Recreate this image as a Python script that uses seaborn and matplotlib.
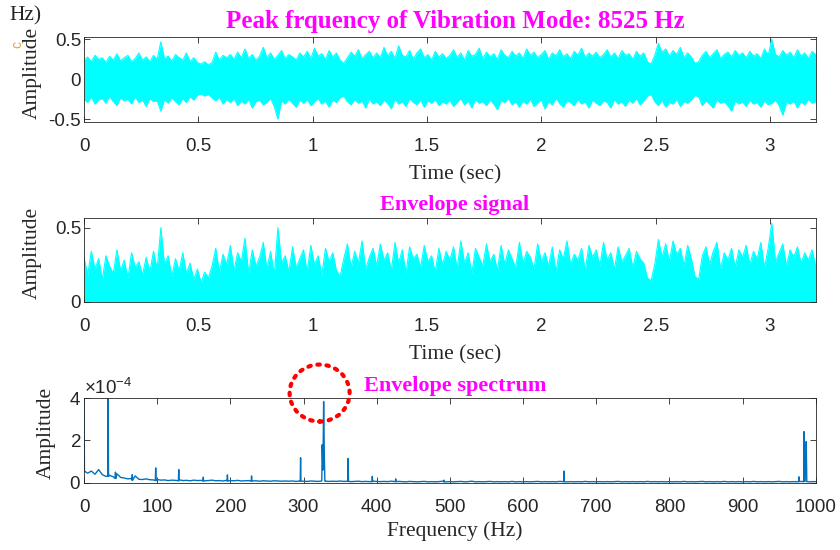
import numpy as np
import matplotlib
matplotlib.use("Agg")
import matplotlib.pyplot as plt
import seaborn as sns
from matplotlib.patches import Ellipse
from matplotlib.ticker import ScalarFormatter

# ---------------- data ----------------
# raw vibration signal: upper / lower envelope of the dense trace, 0 .. 3.2 s
top_upper = [
    0.24, 0.28, 0.22, 0.30, 0.25, 0.27, 0.21, 0.29, 0.24, 0.32, 0.23, 0.27, 0.30, 0.22, 0.26, 0.33, 0.24, 0.28, 0.22, 0.30,
    0.25, 0.47, 0.26, 0.29, 0.23, 0.31, 0.27, 0.24, 0.33, 0.22, 0.27, 0.21, 0.19, 0.22, 0.18, 0.21, 0.34, 0.24, 0.30, 0.27,
    0.31, 0.25, 0.34, 0.27, 0.38, 0.26, 0.31, 0.24, 0.29, 0.40, 0.27, 0.33, 0.25, 0.30, 0.36, 0.26, 0.31, 0.28, 0.24, 0.33,
    0.28, 0.35, 0.26, 0.39, 0.29, 0.32, 0.25, 0.36, 0.28, 0.33, 0.24, 0.20, 0.27, 0.34, 0.29, 0.37, 0.26, 0.31, 0.35, 0.27,
    0.33, 0.27, 0.40, 0.29, 0.35, 0.26, 0.42, 0.30, 0.28, 0.36, 0.25, 0.33, 0.38, 0.27, 0.31, 0.24, 0.35, 0.28, 0.32, 0.26,
    0.30, 0.37, 0.27, 0.33, 0.24, 0.36, 0.29, 0.31, 0.39, 0.26, 0.34, 0.28, 0.32, 0.25, 0.37, 0.30, 0.27, 0.35, 0.29, 0.33,
    0.26, 0.38, 0.30, 0.34, 0.27, 0.31, 0.36, 0.25, 0.33, 0.29, 0.37, 0.28, 0.32, 0.26, 0.35, 0.30, 0.39, 0.27, 0.33, 0.29,
    0.34, 0.27, 0.31, 0.37, 0.28, 0.33, 0.26, 0.36, 0.30, 0.32, 0.25, 0.35, 0.29, 0.33, 0.22, 0.19, 0.30, 0.45, 0.34, 0.38,
    0.29, 0.36, 0.31, 0.40, 0.27, 0.33, 0.28, 0.20, 0.22, 0.30, 0.35, 0.27, 0.32, 0.37, 0.26, 0.31, 0.34, 0.28, 0.36, 0.30,
    0.33, 0.27, 0.35, 0.29, 0.32, 0.26, 0.38, 0.30, 0.50, 0.31, 0.28, 0.36, 0.30, 0.34, 0.27, 0.37, 0.29, 0.33, 0.26, 0.35,
    0.31,
]
top_lower = [
    -0.25, -0.29, -0.22, -0.31, -0.26, -0.24, -0.30, -0.21, -0.28, -0.33, -0.23, -0.27, -0.25, -0.31, -0.22, -0.29, -0.26, -0.34, -0.24, -0.28,
    -0.27, -0.40, -0.25, -0.30, -0.23, -0.28, -0.32, -0.24, -0.29, -0.22, -0.26, -0.20, -0.18, -0.21, -0.19, -0.23, -0.27, -0.22, -0.31, -0.25,
    -0.29, -0.24, -0.33, -0.27, -0.31, -0.25, -0.36, -0.28, -0.26, -0.32, -0.29, -0.24, -0.34, -0.50, -0.27, -0.31, -0.25, -0.30, -0.35, -0.26,
    -0.30, -0.25, -0.33, -0.28, -0.24, -0.31, -0.27, -0.35, -0.26, -0.29, -0.23, -0.21, -0.28, -0.32, -0.25, -0.30, -0.27, -0.36, -0.24, -0.31,
    -0.28, -0.33, -0.26, -0.30, -0.37, -0.25, -0.31, -0.28, -0.34, -0.24, -0.29, -0.32, -0.26, -0.35, -0.27, -0.30, -0.25, -0.33, -0.28, -0.31,
    -0.26, -0.34, -0.29, -0.24, -0.32, -0.27, -0.36, -0.25, -0.30, -0.28, -0.33, -0.26, -0.31, -0.38, -0.27, -0.29, -0.24, -0.32, -0.28, -0.35,
    -0.27, -0.31, -0.25, -0.34, -0.29, -0.26, -0.37, -0.28, -0.32, -0.24, -0.30, -0.35, -0.27, -0.29, -0.33, -0.25, -0.31, -0.28, -0.36, -0.26,
    -0.30, -0.33, -0.27, -0.29, -0.36, -0.25, -0.31, -0.28, -0.34, -0.26, -0.30, -0.24, -0.32, -0.27, -0.21, -0.19, -0.28, -0.33, -0.26, -0.35,
    -0.29, -0.31, -0.25, -0.34, -0.28, -0.30, -0.26, -0.20, -0.22, -0.33, -0.27, -0.31, -0.36, -0.26, -0.30, -0.28, -0.33, -0.40, -0.27, -0.31,
    -0.28, -0.34, -0.26, -0.31, -0.29, -0.35, -0.27, -0.32, -0.30, -0.26, -0.33, -0.45, -0.29, -0.31, -0.27, -0.36, -0.28, -0.32, -0.25, -0.30,
    -0.28,
]
# envelope signal: upper edge of the dense trace, 0 .. 3.2 s
env_upper = [
    0.30, 0.18, 0.34, 0.22, 0.29, 0.15, 0.31, 0.24, 0.19, 0.35, 0.21, 0.28, 0.16, 0.33, 0.23, 0.27, 0.18, 0.30, 0.20, 0.34,
    0.22, 0.50, 0.25, 0.31, 0.17, 0.29, 0.21, 0.33, 0.19, 0.26, 0.15, 0.22, 0.13, 0.20, 0.16, 0.24, 0.36, 0.20, 0.32, 0.25,
    0.38, 0.21, 0.33, 0.27, 0.43, 0.19, 0.35, 0.24, 0.30, 0.40, 0.22, 0.34, 0.18, 0.50, 0.26, 0.31, 0.20, 0.37, 0.23, 0.29,
    0.35, 0.20, 0.38, 0.25, 0.31, 0.18, 0.36, 0.27, 0.33, 0.21, 0.17, 0.29, 0.39, 0.23, 0.34, 0.26, 0.41, 0.22, 0.30, 0.36,
    0.24, 0.39, 0.28, 0.33, 0.21, 0.40, 0.26, 0.35, 0.19, 0.37, 0.29, 0.32, 0.23, 0.38, 0.27, 0.31, 0.20, 0.36, 0.25, 0.34,
    0.28, 0.37, 0.22, 0.41, 0.26, 0.33, 0.19, 0.36, 0.30, 0.24, 0.39, 0.27, 0.32, 0.21, 0.38, 0.25, 0.35, 0.29, 0.23, 0.40,
    0.26, 0.34, 0.30, 0.22, 0.39, 0.27, 0.33, 0.24, 0.37, 0.20, 0.35, 0.29, 0.41, 0.25, 0.32, 0.28, 0.36, 0.21, 0.38, 0.30,
    0.35, 0.24, 0.40, 0.28, 0.33, 0.22, 0.37, 0.27, 0.31, 0.36, 0.23, 0.34, 0.29, 0.26, 0.16, 0.14, 0.25, 0.42, 0.30, 0.39,
    0.27, 0.41, 0.32, 0.36, 0.24, 0.38, 0.29, 0.17, 0.15, 0.31, 0.37, 0.25, 0.34, 0.40, 0.22, 0.33, 0.28, 0.36, 0.23, 0.35,
    0.30, 0.38, 0.25, 0.34, 0.29, 0.40, 0.23, 0.36, 0.53, 0.27, 0.33, 0.39, 0.24, 0.35, 0.30, 0.37, 0.26, 0.33, 0.28, 0.35,
    0.24,
]
duration = 3.2  # seconds

# envelope spectrum (amplitude in units of 1e-4): noise floor every 5 Hz
floor_freq = list(range(0, 1001, 5))
floor_amp = [
    4.5, 0.45, 0.55, 0.40, 0.62, 0.38, 0.30, 0.35, 0.28, 0.42, 0.25, 0.22, 0.18, 0.20, 0.32, 0.16, 0.15, 0.18, 0.14, 0.13,
    0.15, 0.12, 0.13, 0.10, 0.12, 0.11, 0.14, 0.10, 0.11, 0.09, 0.12, 0.10, 0.11, 0.09, 0.10, 0.12, 0.09, 0.10, 0.08, 0.11,
    0.10, 0.09, 0.11, 0.08, 0.09, 0.10, 0.08, 0.09, 0.07, 0.09, 0.08, 0.07, 0.09, 0.08, 0.07, 0.08, 0.07, 0.08, 0.06, 0.08,
    0.07, 0.06, 0.08, 0.07, 0.06, 0.09, 0.07, 0.06, 0.07, 0.06, 0.08, 0.06, 0.07, 0.05, 0.06, 0.07, 0.05, 0.06, 0.05, 0.07,
    0.06, 0.05, 0.06, 0.05, 0.07, 0.05, 0.06, 0.05, 0.04, 0.06, 0.05, 0.04, 0.05, 0.06, 0.04, 0.05, 0.04, 0.05, 0.07, 0.04,
    0.05, 0.04, 0.05, 0.06, 0.04, 0.05, 0.07, 0.04, 0.05, 0.04, 0.05, 0.06, 0.04, 0.05, 0.04, 0.05, 0.04, 0.06, 0.04, 0.05,
    0.04, 0.05, 0.04, 0.05, 0.06, 0.04, 0.05, 0.04, 0.05, 0.04, 0.06, 0.05, 0.04, 0.05, 0.04, 0.05, 0.04, 0.06, 0.04, 0.05,
    0.04, 0.05, 0.04, 0.05, 0.04, 0.05, 0.06, 0.04, 0.05, 0.04, 0.05, 0.04, 0.05, 0.04, 0.06, 0.04, 0.05, 0.04, 0.05, 0.04,
    0.05, 0.04, 0.05, 0.04, 0.06, 0.04, 0.05, 0.04, 0.05, 0.06, 0.04, 0.05, 0.04, 0.05, 0.04, 0.06, 0.04, 0.05, 0.04, 0.05,
    0.04, 0.05, 0.04, 0.06, 0.04, 0.05, 0.04, 0.05, 0.04, 0.05, 0.06, 0.04, 0.05, 0.04, 0.05, 0.04, 0.06, 0.05, 0.04, 0.05,
    0.05,
]
# spectral lines (frequency in Hz, amplitude in units of 1e-4), with their narrow bases
peak_freq = [0.6,
             32.5, 33.0, 33.5, 42.5, 43.0, 43.5, 65.5, 66.0, 66.5, 97.5, 98.0, 98.5,
             129.0, 129.5, 129.9, 162.5, 163.0, 163.5, 195.5, 196.0, 196.5, 228.5, 229.0, 229.5,
             295.5, 296.0, 296.5, 324.8, 325.5, 326.5, 327.5, 328.5, 329.2,
             360.5, 361.0, 361.5, 393.5, 394.0, 394.5, 425.5, 426.0, 426.5,
             491.5, 492.0, 492.5, 655.5, 656.0, 656.5, 976.5, 977.0, 977.5,
             983.5, 984.0, 985.3, 986.5, 987.0, 987.8]
peak_amp = [0.55,
            0.30, 4.60, 0.30, 0.20, 0.50, 0.20, 0.12, 0.38, 0.12, 0.10, 0.70, 0.10,
            0.09, 0.62, 0.09, 0.08, 0.26, 0.08, 0.08, 0.37, 0.08, 0.07, 0.32, 0.07,
            0.07, 1.18, 0.07, 0.08, 1.80, 0.60, 3.84, 1.20, 0.07,
            0.06, 1.15, 0.06, 0.05, 0.30, 0.05, 0.05, 0.18, 0.05,
            0.04, 0.12, 0.04, 0.04, 0.55, 0.04, 0.05, 0.28, 0.05,
            0.05, 2.42, 0.40, 0.60, 1.95, 0.05]
amp_unit = 1e-4

# highlighted spectral line (red dotted circle)
highlight_freq = 322
highlight_amp = 4.25e-4

time_ticks = [0, 0.5, 1, 1.5, 2, 2.5, 3]
time_tick_labels = ["0", "0.5", "1", "1.5", "2", "2.5", "3"]
sig_yticks = [-0.5, 0, 0.5]
sig_ytick_labels = ["-0.5", "0", "0.5"]
env_yticks = [0, 0.5]
env_ytick_labels = ["0", "0.5"]
freq_ticks = [0, 100, 200, 300, 400, 500, 600, 700, 800, 900, 1000]
spec_yticks = [0, 2e-4, 4e-4]

title_top = "Peak frquency of Vibration Mode: 8525 Hz"
title_mid = "Envelope signal"
title_bot = "Envelope spectrum"
xlabel_time = "Time (sec)"
xlabel_freq = "Frequency (Hz)"
ylabel = "Amplitude"

# ---------------- style ----------------
sns.set_style("ticks")
DARK = "#262626"
CYAN = "#00FFFF"
BLUE = "#0072BD"
MAGENTA = "#FF00FF"
plt.rcParams.update({
    "font.family": ["Liberation Sans", "DejaVu Sans"],
    "axes.unicode_minus": False,
    "mathtext.fontset": "custom",
    "mathtext.rm": "Liberation Sans",
    "mathtext.it": "Liberation Sans:italic",
    "mathtext.bf": "Liberation Sans:bold",
    "axes.edgecolor": DARK,
    "axes.linewidth": 0.6,
})
SERIF = ["Liberation Serif", "DejaVu Serif"]
TICK_SIZE = 13.5

fig = plt.figure(figsize=(8.4, 5.5), dpi=100)
W = 0.8711
ax1 = fig.add_axes([0.1, 0.7790, W, 0.1537])
ax2 = fig.add_axes([0.1, 0.4515, W, 0.1527])
ax3 = fig.add_axes([0.1, 0.1224, W, 0.1534])


def style_axes(ax, xpad=12):
    for s in ax.spines.values():
        s.set_visible(True)
        s.set_color(DARK)
        s.set_linewidth(0.6)
    ax.tick_params(axis="both", direction="in", top=True, right=True, length=4,
                   width=0.6, color=DARK, labelcolor=DARK, labelsize=TICK_SIZE)
    ax.tick_params(axis="x", pad=xpad)
    ax.tick_params(axis="y", pad=2)
    ax.grid(False)


# ---- top: raw signal ----
t1 = np.linspace(0, duration, len(top_upper))
ax1.fill_between(t1, top_lower, top_upper, color=CYAN, lw=0)
sns.lineplot(x=t1, y=top_upper, ax=ax1, color=CYAN, lw=0.8, estimator=None)
sns.lineplot(x=t1, y=top_lower, ax=ax1, color=CYAN, lw=0.8, estimator=None)
ax1.set_xlim(0, duration)
ax1.set_ylim(-0.53, 0.53)
ax1.set_xticks(time_ticks)
ax1.set_xticklabels(time_tick_labels)
ax1.set_yticks(sig_yticks)
ax1.set_yticklabels(sig_ytick_labels)
style_axes(ax1)

# ---- middle: envelope signal ----
t2 = np.linspace(0, duration, len(env_upper))
ax2.fill_between(t2, 0, env_upper, color=CYAN, lw=0)
sns.lineplot(x=t2, y=env_upper, ax=ax2, color=CYAN, lw=0.8, estimator=None)
ax2.set_xlim(0, duration)
ax2.set_ylim(0, 0.567)
ax2.set_xticks(time_ticks)
ax2.set_xticklabels(time_tick_labels)
ax2.set_yticks(env_yticks)
ax2.set_yticklabels(env_ytick_labels)
style_axes(ax2)

# ---- bottom: envelope spectrum ----
f_all = np.array(floor_freq + peak_freq, dtype=float)
a_all = np.array(floor_amp + peak_amp, dtype=float) * amp_unit
order = np.argsort(f_all, kind="stable")
sns.lineplot(x=f_all[order], y=a_all[order], ax=ax3, color=BLUE, lw=1.0,
             estimator=None, sort=False)
ax3.set_xlim(0, 1000)
ax3.set_ylim(0, 4e-4)
ax3.set_xticks(freq_ticks)
ax3.set_yticks(spec_yticks)
fmt = ScalarFormatter(useMathText=True)
fmt.set_powerlimits((0, 0))
ax3.yaxis.set_major_formatter(fmt)
style_axes(ax3, xpad=11.5)
ax3.yaxis.get_offset_text().set_fontsize(TICK_SIZE)
ax3.yaxis.get_offset_text().set_color(DARK)

ax3.add_patch(Ellipse((highlight_freq, highlight_amp), width=82, height=2.7e-4,
                      fill=False, edgecolor="red", lw=3, linestyle=(0, (0.6, 1.6)),
                      capstyle="round", clip_on=False, zorder=10))

# ---- titles and labels ----
ax1.set_title(title_top, fontsize=18, fontweight="bold", color=MAGENTA,
              family=SERIF, pad=6.5, x=0.507)
ax2.set_title(title_mid, fontsize=16, fontweight="bold", color=MAGENTA,
              family=SERIF, pad=5.5, x=0.507)
ax3.set_title(title_bot, fontsize=16, fontweight="bold", color=MAGENTA,
              family=SERIF, pad=5.5, x=0.507)

for ax, xl, yx, yy, xy in [(ax1, xlabel_time, -0.0574, 0.57, -0.52),
                           (ax2, xlabel_time, -0.0574, 0.58, -0.52),
                           (ax3, xlabel_freq, -0.038, 0.59, -0.455)]:
    ax.set_xlabel(xl, fontsize=15.5, family=SERIF, color=DARK)
    ax.set_ylabel(ylabel, fontsize=15.5, family=SERIF, color=DARK)
    ax.xaxis.set_label_coords(0.507, xy)
    ax.yaxis.set_label_coords(yx, yy)

# overlapping remnants at the top-left corner of the original figure
fig.text(26 / 840, 1 - 16 / 550, "Hz)", fontsize=15.5, family=SERIF, color=DARK,
         ha="center", va="center")
fig.text(17.5 / 840, 1 - 44 / 550, "c", fontsize=10, color="#E8A33C",
         ha="center", va="center", rotation=90)

fig.savefig("out.png", dpi=100)
